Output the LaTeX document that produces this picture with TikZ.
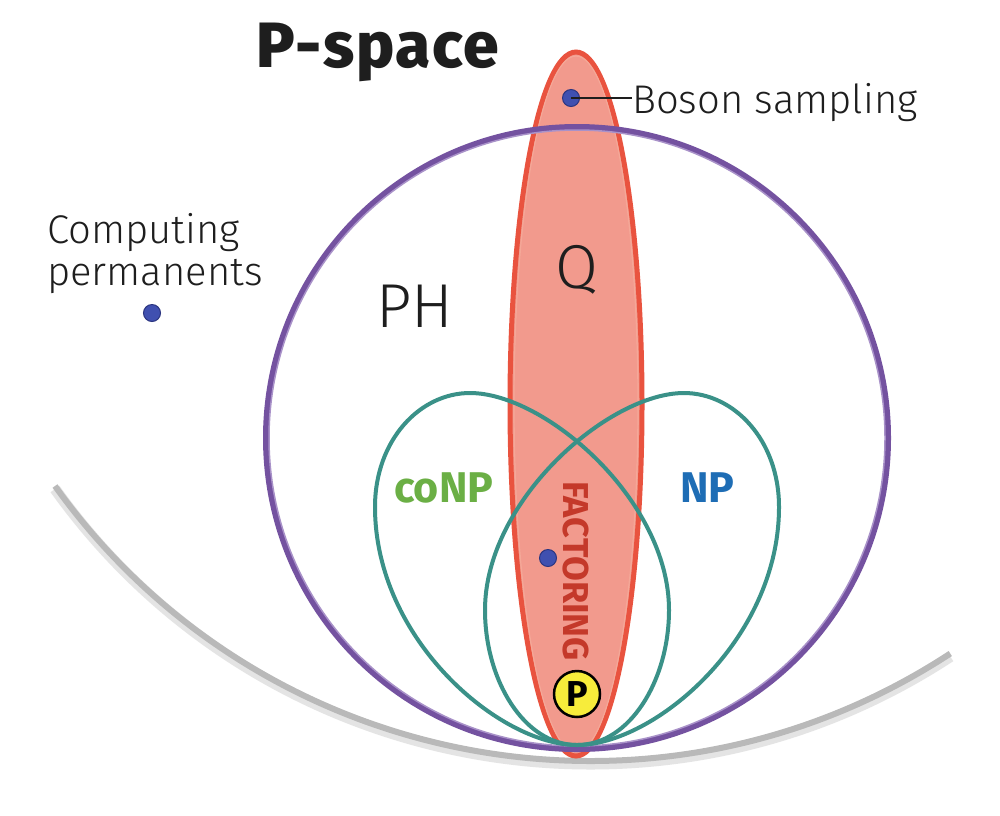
\documentclass[tikz,border=0pt]{standalone}
\usepackage{fontspec}
\setmainfont{Fira Sans}
\newfontfamily\lightf{Fira Sans Light}
\newfontfamily\boldf{Fira Sans}[UprightFont=* Bold]
\newfontfamily\heavyf{Fira Sans ExtraBold}[LetterSpace=2.5]
\definecolor{grayL}{HTML}{E4E4E4}
\definecolor{grayD}{HTML}{B9B9B9}
\definecolor{purp}{HTML}{7452A0}
\definecolor{purpL}{HTML}{A992C9}
\definecolor{redS}{HTML}{E9533F}
\definecolor{redF}{HTML}{F29A8D}
\definecolor{redL}{HTML}{F4A898}
\definecolor{tealc}{HTML}{3A9188}
\definecolor{greenc}{HTML}{6BAF45}
\definecolor{bluec}{HTML}{1E6DB5}
\definecolor{factc}{HTML}{C4392A}
\definecolor{yel}{HTML}{F7EC3B}
\definecolor{dotblue}{HTML}{4050B0}
\definecolor{dotedge}{HTML}{2B3580}
\definecolor{txt}{HTML}{1E1E1E}
\begin{document}
\begin{tikzpicture}[x=1pt,y=-1pt,
  lbl/.style={font=\lightf\fontsize{40}{42}\selectfont, text=txt, inner sep=0pt},
  biglbl/.style={font=\lightf\fontsize{62}{62}\selectfont, text=txt, inner sep=0pt},
  cls/.style={font=\boldf\fontsize{43}{43}\selectfont, inner sep=0pt},
  dotb/.style={circle, fill=dotblue, draw=dotedge, line width=1pt, minimum size=17pt, inner sep=0pt},
  tloop/.style={draw=tealc, line width=4pt},
]
\useasboundingbox (0,0) rectangle (1000,815);
\fill[white] (0,0) rectangle (1000,815);

% grey ground arc
\draw[grayL, line width=11pt] (55,489) arc[start angle=144.4, end angle=56.8, radius=658];
\draw[grayD, line width=6pt] (55,486) arc[start angle=144.4, end angle=56.8, radius=658];

% Q ellipse
\draw[redS, fill=redF, line width=5pt] (576,404) ellipse[x radius=66, y radius=352];
\draw[redL, line width=1.2pt] (576,404) ellipse[x radius=62, y radius=348];

% PH circle
\draw[purp, line width=6pt] (577,438) circle[radius=311];
\draw[purpL, line width=1.5pt] (577,438) circle[radius=308];

% coNP and NP loops
\draw[tloop] (577,745) .. controls (500,745) and (375,640) .. (375,507)
  .. controls (375,440) and (420,393) .. (470,393)
  .. controls (545,393) and (669,500) .. (669,610)
  .. controls (669,680) and (630,745) .. (577,745) -- cycle;
\draw[tloop] (577,745) .. controls (654,745) and (779,640) .. (779,507)
  .. controls (779,440) and (734,393) .. (684,393)
  .. controls (609,393) and (485,500) .. (485,610)
  .. controls (485,680) and (524,745) .. (577,745) -- cycle;

% labels
\node[font=\heavyf\fontsize{64}{64}\selectfont, text=txt, inner sep=0pt, anchor=base west] (pspace) at (256,67) {P-space};
\node[biglbl, anchor=base west] (ph) at (376,327) {PH};
\node[biglbl, anchor=base west] (q) at (555,288) {Q};
\node[cls, text=greenc, anchor=base west] (conp) at (394,502) {coNP};
\node[cls, text=bluec, anchor=base west] (np) at (680,502) {NP};
\node[font=\boldf\fontsize{36}{36}\selectfont, text=factc, inner sep=0pt, rotate=-90] (fact) at (576,571) {FACTORING};

% P circle
\node[circle, fill=yel, draw=black, line width=2.5pt, minimum size=46pt, inner sep=0pt,
      font=\boldf\fontsize{36}{36}\selectfont] (p) at (577,694) {P};

% dots
\node[dotb] (bdot) at (571,98) {};
\node[dotb] (cdot) at (152,313) {};
\node[dotb] (fdot) at (548,558) {};

\node[lbl, anchor=base west] (boson) at (632,113) {Boson sampling};
\draw[txt, line width=1.3pt] (bdot.center) -- (boson.west |- bdot.center);
\node[lbl, anchor=base west, align=left] (comp) at (47,285) {Computing\\permanents};
\end{tikzpicture}
\end{document}
